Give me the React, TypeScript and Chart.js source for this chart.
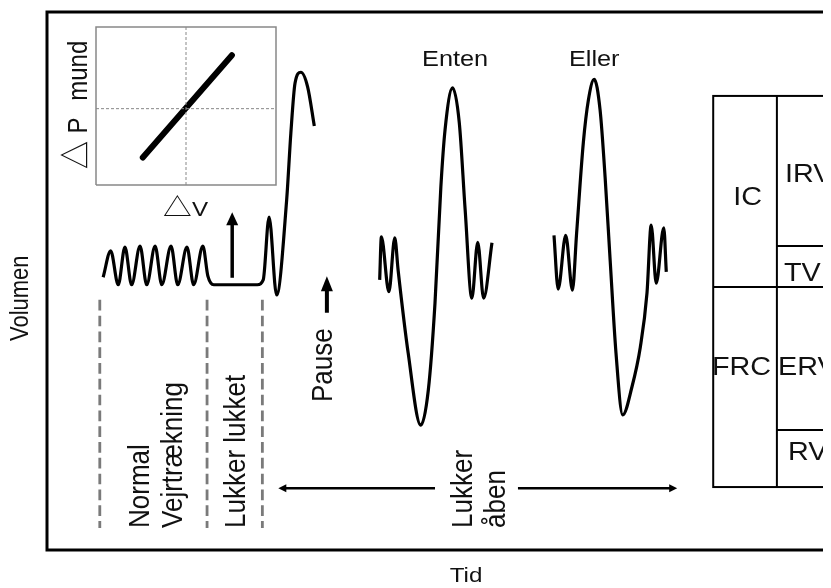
import React, { useEffect, useRef } from "react";
import { Chart, registerables } from "chart.js";

Chart.register(...registerables);

// ---------- data (time axis 0–100, volume axis 0–100) ----------
// normal breathing → shutter closed → spike → maximal inspiration
const closedTime = [6.7, 7.6, 8.5, 9.3, 10.1, 11.1, 11.9, 12.9, 13.7, 14.8, 15.6, 16.7, 17.5, 18.6, 19.2, 19.9, 25.1, 25.8, 26.5, 27.4, 28.6, 29.1, 29.6, 30.3, 31.1, 31.9];
const closedVolume = [50.7, 55.6, 49.3, 56.3, 49.3, 56.5, 49.3, 56.5, 49.3, 56.5, 49.3, 56.3, 49.3, 56.5, 50.9, 49.3, 49.3, 50.2, 61.9, 47.4, 65.1, 77.5, 86.8, 88.8, 86.1, 78.8];

// "Enten" manoeuvre (shutter open)
const entenTime = [39.7, 39.9, 40.8, 41.5, 41.9, 43.1, 44.6, 45.5, 46.3, 47.0, 47.5, 48.4, 49.2, 49.9, 50.7, 51.4, 52.1, 53.1];
const entenVolume = [50.2, 58.2, 48.0, 58.0, 52.0, 36.6, 23.2, 29.7, 45.9, 67.5, 78.1, 85.9, 79.4, 63.2, 46.8, 57.2, 46.8, 57.1];

// "Eller" manoeuvre (shutter open)
const ellerTime = [60.5, 61.0, 61.9, 62.7, 63.2, 64.0, 64.6, 65.3, 66.0, 66.6, 67.2, 67.9, 68.7, 69.8, 70.8, 71.6, 72.1, 72.7, 73.6, 73.9];
const ellerVolume = [58.5, 48.5, 58.5, 48.3, 58.9, 75.7, 83.6, 87.5, 81.8, 69.3, 53.9, 36.6, 25.1, 30.3, 37.7, 47.8, 60.4, 49.6, 59.9, 51.7];

// phase separators (dashed)
const phaseMarkerTimes = [6.3, 19.1, 25.7];
const phaseMarkerVolumes = [46.5, 4.1];

// lung volume table: levels (top, TV top, FRC, RV top, bottom) and columns
const lungVolumeLevels = [84.4, 56.5, 48.9, 22.3, 11.7];
const lungTableTimes = [79.5, 87.1, 98];

// inset: ΔP mund vs ΔV
const insetRangeX = [-1, 1];
const insetRangeY = [-1, 1.07];
const insetDeltaV = [-0.48, 0.51];
const insetDeltaP = [-0.64, 0.7];

// ---------- presentation ----------
const FONT = '"Liberation Sans", Arial, sans-serif';
const CJK = '"Noto Sans CJK JP", "DejaVu Sans", sans-serif';
const STRETCH = 1.15;
const INK = "#111";

type Label = { text: string; x: number; y: number; size: number; rot?: boolean; align?: CanvasTextAlign; family?: string };

const labels: Label[] = [
  { text: "Volumen", x: -2.3, y: 46.8, size: 22, rot: true, align: "center" },
  { text: "Tid", x: 50.0, y: -5.95, size: 21, align: "center" },
  { text: "Enten", x: 48.7, y: 90.0, size: 22, align: "center" },
  { text: "Eller", x: 65.3, y: 90.0, size: 22, align: "center" },
  { text: "Normal", x: 12.2, y: 4.1, size: 26, rot: true },
  { text: "Vejrtrækning", x: 16.1, y: 4.1, size: 26, rot: true },
  { text: "Lukker lukket", x: 23.6, y: 4.1, size: 26, rot: true },
  { text: "Pause", x: 34.0, y: 27.5, size: 26, rot: true },
  { text: "Lukker", x: 50.7, y: 4.1, size: 26, rot: true },
  { text: "åben", x: 54.7, y: 4.1, size: 26, rot: true },
  { text: "IC", x: 81.9, y: 64.1, size: 25 },
  { text: "IRV", x: 88.07, y: 68.4, size: 25 },
  { text: "TV", x: 87.95, y: 50.0, size: 25 },
  { text: "FRC", x: 79.36, y: 32.5, size: 25 },
  { text: "ERV", x: 87.23, y: 32.5, size: 25 },
  { text: "RV", x: 88.42, y: 16.7, size: 25 },
  // inset axis titles
  { text: "△", x: 4.74, y: 70.8, size: 28, rot: true, family: CJK },
  { text: "P", x: 4.74, y: 77.4, size: 24, rot: true },
  { text: "mund", x: 4.74, y: 83.5, size: 24, rot: true },
  { text: "△", x: 13.84, y: 62.1, size: 25, family: CJK },
  { text: "V", x: 17.3, y: 62.1, size: 21 },
];

type Arrow = { x0: number; y0: number; x1: number; y1: number; w: number; head: number; headW: number };
const arrows: Arrow[] = [
  { x0: 22.1, y0: 50.6, x1: 22.1, y1: 62.8, w: 3.5, head: 13, headW: 12 },
  { x0: 33.4, y0: 44.1, x1: 33.4, y1: 50.9, w: 4, head: 15, headW: 12 },
  { x0: 46.3, y0: 11.5, x1: 27.6, y1: 11.5, w: 2.5, head: 8, headW: 8 },
  { x0: 56.2, y0: 11.5, x1: 75.2, y1: 11.5, w: 2.5, head: 8, headW: 8 },
];

const zip = (xs: number[], ys: number[]) => xs.map((x, i) => ({ x, y: ys[i] }));

const annotate = {
  id: "annotate",
  afterDatasetsDraw(chart: any) {
    const { ctx, chartArea, scales } = chart;
    const X = (v: number) => scales.x.getPixelForValue(v);
    const Y = (v: number) => scales.y.getPixelForValue(v);
    ctx.save();
    ctx.strokeStyle = "#000";
    ctx.fillStyle = "#000";
    // outer frame
    ctx.lineWidth = 3;
    ctx.strokeRect(chartArea.left, chartArea.top, chartArea.right - chartArea.left, chartArea.bottom - chartArea.top);
    // lung volume table
    const [tl, tm, tr] = lungTableTimes.map(X);
    const [l0, l1, l2, l3, l4] = lungVolumeLevels.map(Y);
    ctx.lineWidth = 2;
    const seg = (a: number, b: number, c: number, d: number) => {
      ctx.beginPath();
      ctx.moveTo(a, b);
      ctx.lineTo(c, d);
      ctx.stroke();
    };
    ctx.strokeRect(tl, l0, tr - tl, l4 - l0);
    seg(tm, l0, tm, l4);
    seg(tl, l2, tr, l2);
    seg(tm, l1, tr, l1);
    seg(tm, l3, tr, l3);
    // arrows
    arrows.forEach((a) => {
      const x0 = X(a.x0), y0 = Y(a.y0), x1 = X(a.x1), y1 = Y(a.y1);
      const len = Math.hypot(x1 - x0, y1 - y0);
      const ux = (x1 - x0) / len, uy = (y1 - y0) / len;
      const bx = x1 - ux * a.head, by = y1 - uy * a.head;
      ctx.lineWidth = a.w;
      ctx.lineCap = "butt";
      seg(x0, y0, bx + ux, by + uy);
      ctx.beginPath();
      ctx.moveTo(x1, y1);
      ctx.lineTo(bx - uy * a.headW / 2, by + ux * a.headW / 2);
      ctx.lineTo(bx + uy * a.headW / 2, by - ux * a.headW / 2);
      ctx.closePath();
      ctx.fill();
    });
    // labels
    labels.forEach((l) => {
      ctx.save();
      ctx.translate(X(l.x), Y(l.y));
      ctx.scale(STRETCH, 1);
      if (l.rot) ctx.rotate(-Math.PI / 2);
      ctx.font = `${l.size}px ${l.family || FONT}`;
      ctx.textAlign = l.align || "left";
      ctx.textBaseline = "alphabetic";
      ctx.fillStyle = INK;
      ctx.fillText(l.text, 0, 0);
      ctx.restore();
    });
    ctx.restore();
  },
};

export default function App() {
  const mainRef = useRef<HTMLCanvasElement>(null);
  const insetRef = useRef<HTMLCanvasElement>(null);

  useEffect(() => {
    document.documentElement.style.overflow = "hidden";
    document.body.style.overflow = "hidden";

    const trace = {
      borderColor: "#000",
      borderWidth: 3.2,
      pointRadius: 0,
      fill: false,
      cubicInterpolationMode: "monotone",
      clip: false,
    };
    const markers = phaseMarkerTimes.map((t) => ({
      data: phaseMarkerVolumes.map((v) => ({ x: t, y: v })),
      borderColor: "#7a7a7a",
      borderWidth: 2.8,
      borderDash: [10.7, 5.1],
      pointRadius: 0,
      tension: 0,
      clip: false,
    }));

    const main = new Chart(mainRef.current!, {
      type: "line",
      data: {
        datasets: [
          { data: zip(closedTime, closedVolume), ...trace },
          { data: zip(entenTime, entenVolume), ...trace },
          { data: zip(ellerTime, ellerVolume), ...trace },
          ...markers,
        ] as any,
      },
      options: {
        responsive: false,
        animation: false,
        devicePixelRatio: 1,
        events: [],
        layout: { padding: { left: 39, top: 4, right: 3, bottom: 40 } },
        scales: {
          x: { type: "linear", min: 0, max: 100, display: false },
          y: { type: "linear", min: 0, max: 100, display: false },
        },
        plugins: { legend: { display: false }, tooltip: { enabled: false } },
      },
      plugins: [annotate],
    } as any);

    const [x0, x1] = insetRangeX;
    const [y0, y1] = insetRangeY;
    const grey = "#888";
    const inset = new Chart(insetRef.current!, {
      type: "line",
      data: {
        datasets: [
          { data: zip([x0, x1, x1, x0, x0], [y0, y0, y1, y1, y0]), borderColor: grey, borderWidth: 1.5, pointRadius: 0, tension: 0, clip: false },
          { data: zip([0, 0], [y0, y1]), borderColor: grey, borderWidth: 1, borderDash: [3, 2], pointRadius: 0, tension: 0, clip: false },
          { data: zip([x0, x1], [0, 0]), borderColor: grey, borderWidth: 1, borderDash: [3, 2], pointRadius: 0, tension: 0, clip: false },
          { data: zip(insetDeltaV, insetDeltaP), borderColor: "#000", borderWidth: 6, borderCapStyle: "round", pointRadius: 0, tension: 0, clip: false },
        ] as any,
      },
      options: {
        responsive: false,
        animation: false,
        devicePixelRatio: 1,
        events: [],
        layout: { padding: 1 },
        scales: {
          x: { type: "linear", min: x0, max: x1, display: false },
          y: { type: "linear", min: y0, max: y1, display: false },
        },
        plugins: { legend: { display: false }, tooltip: { enabled: false } },
      },
    } as any);

    return () => {
      main.destroy();
      inset.destroy();
    };
  }, []);

  return (
    <div style={{ position: "relative", width: 880, height: 582 }}>
      <canvas ref={mainRef} width={880} height={582} style={{ display: "block", width: 880, height: 582 }} />
      <canvas
        ref={insetRef}
        width={182}
        height={160}
        style={{ position: "absolute", left: 87, top: 18, width: 182, height: 160 }}
      />
    </div>
  );
}
